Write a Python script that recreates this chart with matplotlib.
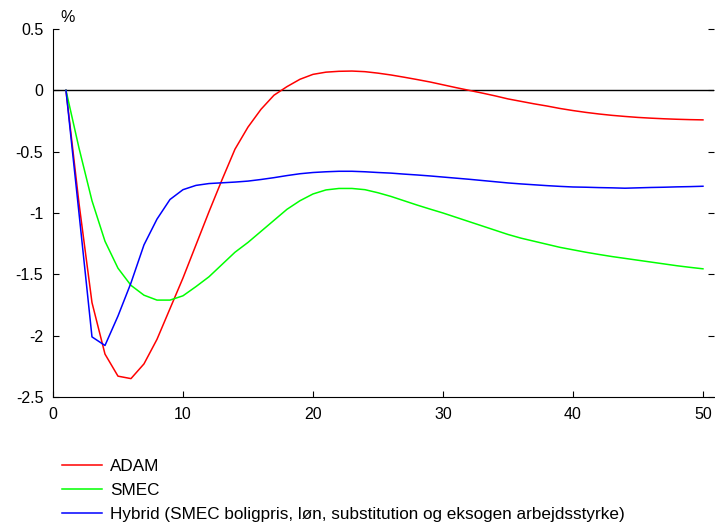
import matplotlib
matplotlib.use("Agg")
import matplotlib.pyplot as plt
import numpy as np

plt.rcParams['font.family'] = ['Liberation Sans', 'DejaVu Sans']

periods = list(range(1, 51))

adam = [0, -0.92, -1.73, -2.15, -2.33, -2.35, -2.23, -2.03, -1.78, -1.53,
        -1.26, -0.99, -0.73, -0.48, -0.30, -0.155, -0.04, 0.03, 0.09, 0.13,
        0.148, 0.155, 0.157, 0.152, 0.14, 0.125, 0.107, 0.088, 0.068, 0.045,
        0.022, 0.0, -0.022, -0.045, -0.07, -0.09, -0.11, -0.128, -0.148, -0.165,
        -0.18, -0.193, -0.204, -0.213, -0.221, -0.227, -0.232, -0.236, -0.239, -0.241]

smec = [0, -0.47, -0.9, -1.23, -1.45, -1.59, -1.67, -1.71, -1.71, -1.675,
        -1.6, -1.52, -1.42, -1.32, -1.24, -1.15, -1.06, -0.97, -0.9, -0.845,
        -0.812, -0.8, -0.8, -0.81, -0.835, -0.865, -0.9, -0.935, -0.968, -1.0,
        -1.035, -1.07, -1.105, -1.14, -1.175, -1.205, -1.23, -1.255, -1.28, -1.3,
        -1.32, -1.338, -1.355, -1.37, -1.385, -1.4, -1.415, -1.43, -1.443, -1.455]

hybrid = [0, -1.0, -2.01, -2.08, -1.84, -1.57, -1.26, -1.05, -0.89, -0.81,
          -0.775, -0.76, -0.754, -0.748, -0.74, -0.727, -0.712, -0.695, -0.68, -0.67,
          -0.664, -0.66, -0.66, -0.664, -0.67, -0.675, -0.683, -0.69, -0.698, -0.707,
          -0.716, -0.725, -0.735, -0.745, -0.755, -0.763, -0.77, -0.777, -0.783, -0.788,
          -0.79, -0.793, -0.795, -0.798, -0.795, -0.792, -0.79, -0.787, -0.785, -0.782]

fig = plt.figure(figsize=(7.15, 5.23), dpi=100)
ax = fig.add_axes([0.0741, 0.2409, 0.9245, 0.7037])

l1, = ax.plot(periods, adam, color='#ff0000', lw=1.1, label='ADAM')
l2, = ax.plot(periods, smec, color='#00ff00', lw=1.1, label='SMEC')
l3, = ax.plot(periods, hybrid, color='#0000ff', lw=1.1,
              label='Hybrid (SMEC boligpris, løn, substitution og eksogen arbejdsstyrke)')
ax.axhline(0, color='black', lw=1.0, zorder=1)

ax.set_xlim(0, 50.85)
ax.set_ylim(-2.5, 0.5)
ax.set_xticks([0, 10, 20, 30, 40, 50])
ax.set_yticks([-2.5, -2, -1.5, -1, -0.5, 0, 0.5])
ax.set_yticklabels(['-2.5', '-2', '-1.5', '-1', '-0.5', '0', '0.5'])

ax.spines['top'].set_visible(False)
ax.spines['right'].set_visible(False)
ax.yaxis.set_ticks_position('both')
ax.tick_params(axis='both', direction='in', length=4, width=0.8, labelsize=11.5)
ax.tick_params(axis='y', pad=7)
ax.tick_params(axis='x', pad=7)

fig.text(60 / 715, 1 - 18 / 523, '%', fontsize=11.5, va='center', ha='left')

fig.legend(handles=[l1, l2, l3], loc='upper left', bbox_to_anchor=(0.0867, 0.1215),
           frameon=False, fontsize=12.3, handlelength=2.35, handletextpad=0.47,
           labelspacing=0.5, borderaxespad=0, borderpad=0)

fig.savefig('out.png', dpi=100)
